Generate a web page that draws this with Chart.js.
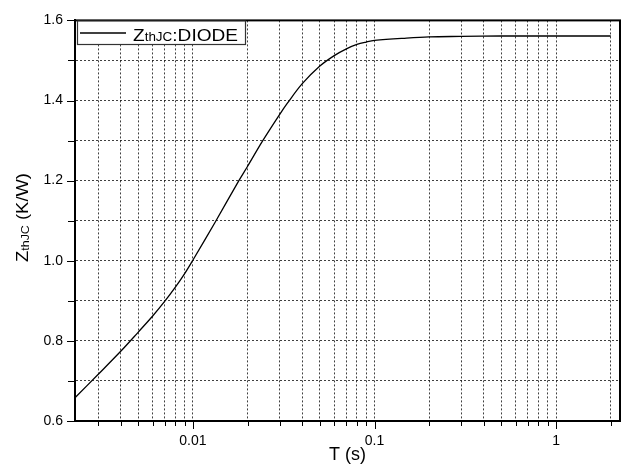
<!DOCTYPE html>
<html lang="en">
<head>
<meta charset="UTF-8">
<title>ZthJC DIODE</title>
<script src="https://cdn.jsdelivr.net/npm/chart.js@4.4.0/dist/chart.umd.min.js"></script>
<style>
  html, body { margin: 0; padding: 0; background: #fff; }
</style>
</head>
<body>
<canvas id="chart" width="624" height="466"></canvas>
<script>
// values
const tValues = [0.00224, 0.003, 0.004, 0.005, 0.006, 0.007, 0.008, 0.009, 0.01, 0.0132, 0.0179, 0.02, 0.0241, 0.03, 0.0332, 0.04, 0.05, 0.06, 0.07, 0.08, 0.09, 0.1, 0.15, 0.2, 0.3, 0.5, 1, 2];
const zValues = [0.658, 0.716, 0.774, 0.822, 0.862, 0.899, 0.934, 0.968, 1.002, 1.095, 1.2, 1.236, 1.298, 1.365, 1.394, 1.442, 1.486, 1.512, 1.529, 1.540, 1.546, 1.550, 1.556, 1.559, 1.560, 1.561, 1.561, 1.561];

const xTicks = [0.003, 0.004, 0.005, 0.006, 0.007, 0.008, 0.009, 0.01, 0.02, 0.03, 0.04, 0.05, 0.06, 0.07, 0.08, 0.09, 0.1, 0.2, 0.3, 0.4, 0.5, 0.6, 0.7, 0.8, 0.9, 1, 2];
const xLabelTicks = [0.01, 0.1, 1];
const yTicks = [0.6, 0.7, 0.8, 0.9, 1.0, 1.1, 1.2, 1.3, 1.4, 1.5, 1.6];
const yLabelTicks = [0.6, 0.8, 1.0, 1.2, 1.4, 1.6];

const FONT = '"Liberation Sans", Arial, sans-serif';

function isLabel(list, v) {
  return list.some(l => Math.abs(l - v) < 1e-9);
}

// draws text made of [text, size, dy] pieces, squeezed to a given width
function drawParts(ctx, parts, x, y, width) {
  ctx.textAlign = 'left';
  ctx.textBaseline = 'alphabetic';
  let w = 0;
  parts.forEach(p => { ctx.font = p[1] + 'px ' + FONT; w += ctx.measureText(p[0]).width; });
  ctx.save();
  ctx.translate(x, y);
  ctx.scale(width / w, 1);
  let cx = 0;
  parts.forEach(p => {
    ctx.font = p[1] + 'px ' + FONT;
    ctx.fillText(p[0], cx, p[2]);
    cx += ctx.measureText(p[0]).width;
  });
  ctx.restore();
}

const frame = {
  id: 'frame',
  afterDraw(chart) {
    const ctx = chart.ctx;
    const a = chart.chartArea;
    const xs = chart.scales.x, ys = chart.scales.y;
    ctx.save();
    ctx.strokeStyle = '#000';
    ctx.lineWidth = 1;
    // tick marks
    xTicks.forEach(v => {
      const px = Math.round(xs.getPixelForValue(v)) + 0.5;
      const len = isLabel(xLabelTicks, v) ? 8 : 5;
      ctx.beginPath(); ctx.moveTo(px, a.bottom); ctx.lineTo(px, a.bottom + len); ctx.stroke();
    });
    yTicks.forEach(v => {
      const py = Math.round(ys.getPixelForValue(v)) + 0.5;
      const len = isLabel(yLabelTicks, v) ? 8 : 7;
      ctx.beginPath(); ctx.moveTo(a.left, py); ctx.lineTo(a.left - len, py); ctx.stroke();
    });
    // frame
    ctx.lineWidth = 2;
    ctx.strokeRect(a.left, a.top, a.right - a.left, a.bottom - a.top);

    // legend box
    ctx.fillStyle = '#fff';
    ctx.fillRect(77.5, 21, 168, 23.5);
    ctx.lineWidth = 1.2;
    ctx.strokeStyle = '#333';
    ctx.strokeRect(77.5, 21, 168, 23.5);
    ctx.lineWidth = 1.3;
    ctx.strokeStyle = '#000';
    ctx.beginPath(); ctx.moveTo(80, 33); ctx.lineTo(126, 33); ctx.stroke();
    ctx.fillStyle = '#000';
    drawParts(ctx, [['Z', 17, 0], ['thJC', 12, 0.5], [':DIODE', 17, 0]], 133, 40.5, 105);

    // y axis title
    ctx.save();
    ctx.translate(28, 0);
    ctx.rotate(-Math.PI / 2);
    drawParts(ctx, [['Z', 17, 0], ['thJC', 11.5, 0.5], [' (K/W)', 17, 0]], -262, 0, 89);
    ctx.restore();
    ctx.restore();
  }
};

const ctx = document.getElementById('chart').getContext('2d');
new Chart(ctx, {
  type: 'line',
  data: {
    datasets: [{
      data: tValues.map((t, i) => ({ x: t, y: zValues[i] })),
      borderColor: '#000',
      borderWidth: 1.3,
      pointRadius: 0,
      fill: false,
      tension: 0.35
    }]
  },
  options: {
    responsive: false,
    animation: false,
    layout: { padding: { left: 0, right: 4, top: 16, bottom: 0 } },
    plugins: { legend: { display: false }, tooltip: { enabled: false } },
    scales: {
      x: {
        type: 'logarithmic',
        min: 0.00224,
        max: 2.25,
        afterBuildTicks: s => { s.ticks = xTicks.map(v => ({ value: v })); },
        afterFit: s => { s.height = 45; },
        ticks: {
          autoSkip: false, maxRotation: 0, padding: 12, color: '#000',
          font: { family: FONT, size: 14 },
          callback: v => isLabel(xLabelTicks, v) ? String(v) : ''
        },
        grid: { color: 'rgba(0,0,0,0.75)', lineWidth: 1, drawTicks: false },
        border: { display: true, color: '#000', width: 2, dash: [2, 2] },
        title: {
          display: true, text: 'T (s)', color: '#000',
          font: { family: FONT, size: 18 }, padding: { top: 0, bottom: 0 }
        }
      },
      y: {
        min: 0.6,
        max: 1.6,
        afterBuildTicks: s => { s.ticks = yTicks.map(v => ({ value: v })); },
        afterFit: s => { s.width = 75; },
        ticks: {
          autoSkip: false, padding: 12, color: '#000',
          font: { family: FONT, size: 14 },
          callback: v => isLabel(yLabelTicks, v) ? v.toFixed(1) : ''
        },
        grid: { color: 'rgba(0,0,0,0.75)', lineWidth: 1, drawTicks: false },
        border: { display: true, color: '#000', width: 2, dash: [2, 2] }
      }
    }
  },
  plugins: [frame]
});
</script>
</body>
</html>
